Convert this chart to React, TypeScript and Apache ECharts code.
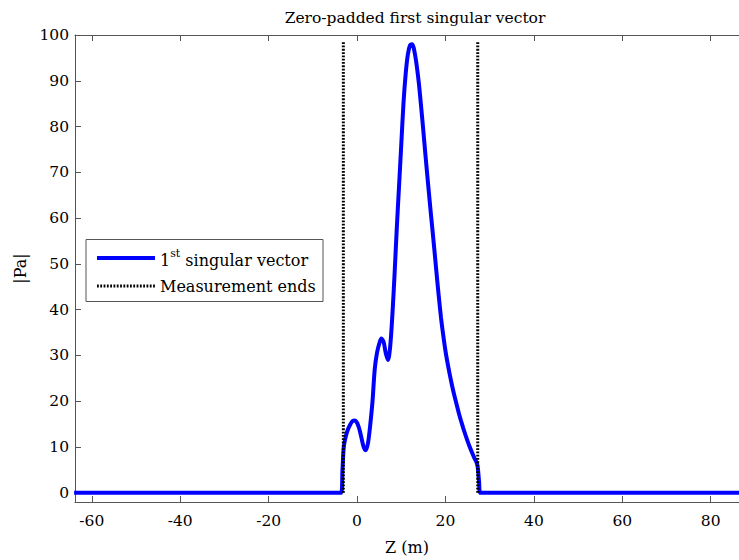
import React, { useEffect, useRef } from "react";
import * as echarts from "echarts";

const zValues = [
  -64, -3.6, -3.3, -3.0, -2.5, -2.0, -1.5, -1.0, -0.5, 0.0, 0.5, 1.0, 1.5, 2.0, 2.5, 3.0, 3.5, 4.0, 4.5,
  5.0, 5.5, 6.0, 6.5, 7.0, 7.5, 8.0, 8.5, 9.0, 9.5, 10.0, 10.5, 11.0, 11.5, 12.0, 12.5, 13.0, 13.5, 14.0,
  14.5, 15.0, 15.5, 16.0, 16.5, 17.0, 17.5, 18.0, 18.5, 19.0, 19.5, 20.0, 20.5, 21.0, 21.5, 22.0, 22.5,
  23.0, 23.5, 24.0, 24.5, 25.0, 25.5, 26.0, 26.5, 27.0, 27.3, 27.6, 27.9, 87,
];
const paValues = [
  0, 0, 5, 10, 12.5, 14, 15, 15.7, 15.8, 15.3, 14, 12, 10, 9.3, 11, 15, 20, 27, 30.5,
  32.5, 33.7, 33, 30.5, 29, 32, 39, 48, 58, 67, 76, 85, 91.5, 95.8, 97.8, 98, 96.3, 93.3, 89.3,
  84.3, 79, 73.5, 68.2, 63, 58, 53, 47.8, 42.8, 38.2, 34.4, 31, 28.2, 25.7, 23.4, 21.3, 19.4,
  17.5, 15.8, 14.2, 12.7, 11.3, 10, 8.8, 7.7, 6.7, 5.6, 2.5, 0, 0,
];
const measurementEnds = [-3.1, 27.3];
const measurementTop = 98.5;
const xTicks = [-60, -40, -20, 0, 20, 40, 60, 80];
const yTicks = [0, 10, 20, 30, 40, 50, 60, 70, 80, 90, 100];

const FONT = "DejaVu Serif";

export default function App() {
  const ref = useRef<HTMLDivElement>(null);
  useEffect(() => {
    const chart = echarts.init(ref.current!, null, { renderer: "svg" });
    const axisColor = "#555";
    const labelStyle = { fontFamily: FONT, fontSize: 15.5, color: "#000" };
    const curve = zValues.map((z, i) => [z, paValues[i]]);
    const endSeries = measurementEnds.map((x) => ({
      name: "Measurement ends",
      type: "line",
      data: [
        [x, 0],
        [x, measurementTop],
      ],
      symbol: "none",
      lineStyle: { color: "#000", width: 3, type: [1.8, 1.5] },
      z: 3,
    }));
    chart.setOption({
      animation: false,
      title: {
        text: "Zero-padded first singular vector",
        left: 410,
        textAlign: "center",
        top: 5,
        textStyle: { fontFamily: FONT, fontSize: 15.5, fontWeight: "normal", color: "#000" },
      },
      grid: { left: 75, top: 35, right: 0, bottom: 54, containLabel: false },
      xAxis: [
        {
          type: "value",
          min: -63.8,
          max: 86.4,
          name: "Z (m)",
          nameLocation: "middle",
          nameGap: 37,
          nameTextStyle: { fontFamily: FONT, fontSize: 16, color: "#000" },
          axisLine: { show: true, onZero: false, lineStyle: { color: axisColor, width: 1 } },
          axisTick: { show: true, inside: true, length: 6, customValues: xTicks, lineStyle: { color: axisColor } },
          axisLabel: { customValues: xTicks, margin: 11, ...labelStyle },
          splitLine: { show: false },
        },
        {
          type: "value",
          position: "top",
          min: -63.8,
          max: 86.4,
          axisLine: { show: true, onZero: false, lineStyle: { color: axisColor, width: 1 } },
          axisTick: { show: true, inside: true, length: 6, customValues: xTicks, lineStyle: { color: axisColor } },
          axisLabel: { show: false },
          splitLine: { show: false },
        },
      ],
      yAxis: {
        type: "value",
        min: -2,
        max: 100,
        name: "|Pa|",
        nameLocation: "middle",
        nameGap: 38,
        nameTextStyle: { fontFamily: FONT, fontSize: 16, color: "#000" },
        axisLine: { show: true, onZero: false, lineStyle: { color: axisColor, width: 1 } },
        axisTick: { show: true, inside: true, length: 6, customValues: yTicks, lineStyle: { color: axisColor } },
        axisLabel: { customValues: yTicks, margin: 6, ...labelStyle },
        splitLine: { show: false },
      },
      series: [
        {
          name: "1st singular vector",
          type: "line",
          data: curve,
          symbol: "none",
          smooth: 0.3,
          lineStyle: { color: "#0000ff", width: 4 },
          z: 2,
        },
        ...endSeries,
      ],
      graphic: [
        {
          type: "rect",
          shape: { x: 86, y: 239.5, width: 237, height: 62 },
          style: { fill: "#fff", stroke: "#555", lineWidth: 1 },
          z: 10,
        },
        {
          type: "line",
          shape: { x1: 97, y1: 258, x2: 155, y2: 258 },
          style: { stroke: "#0000ff", lineWidth: 4 },
          z: 11,
        },
        {
          type: "line",
          shape: { x1: 97, y1: 286, x2: 155, y2: 286 },
          style: { stroke: "#000", lineWidth: 3, lineDash: [1.8, 1.5] },
          z: 11,
        },
        {
          type: "text",
          x: 160,
          y: 258,
          style: {
            text: "{a|1}{s|st}{a| singular vector}",
            verticalAlign: "middle",
            fill: "#000",
            rich: {
              a: { fontFamily: FONT, fontSize: 16, fill: "#000", verticalAlign: "bottom", lineHeight: 20 },
              s: { fontFamily: FONT, fontSize: 11, fill: "#000", verticalAlign: "top", lineHeight: 20 },
            },
          },
          z: 11,
        },
        {
          type: "text",
          x: 160,
          y: 286,
          style: {
            text: "Measurement ends",
            verticalAlign: "middle",
            fontFamily: FONT,
            fontSize: 16,
            fill: "#000",
          },
          z: 11,
        },
      ],
    });
    return () => chart.dispose();
  }, []);
  return <div ref={ref} style={{ width: 739, height: 560, position: "absolute", left: 0, top: 0 }} />;
}
